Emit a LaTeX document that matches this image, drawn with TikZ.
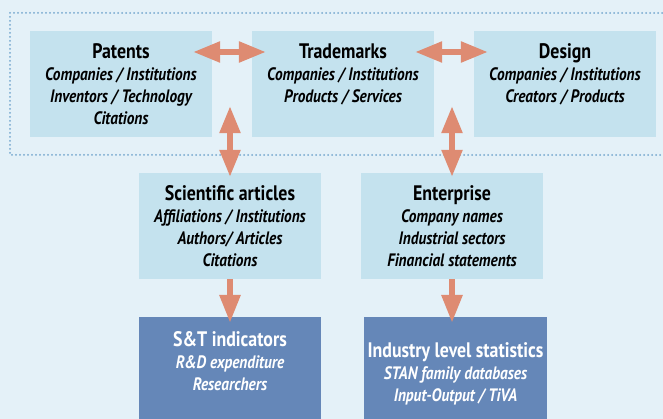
\documentclass[tikz,border=0pt]{standalone}
\usepackage{fontspec}
\setmainfont{PT Sans}[FakeStretch=0.85]
\usepackage{xcolor}
\usepackage{tikz}
\usetikzlibrary{arrows.meta}

\definecolor{bgBlue}{HTML}{E4F1F8}
\definecolor{boxBlue}{HTML}{C4E2EE}
\definecolor{darkBlue}{HTML}{6587B8}
\definecolor{arrowRed}{HTML}{DE8B72}
\definecolor{dotBlue}{HTML}{75A8CE}

\tikzstyle{tsBox} = [ 
    rectangle,
    inner sep=0pt,
    minimum width=182pt,
    minimum height=106pt,
    text=black
]
\tikzstyle{tsLightBox} = [ 
    tsBox,
    fill=boxBlue
]
\tikzstyle{tsDarkBox} = [ 
    tsBox,
    minimum height=110pt,
    fill=darkBlue,
    text=white
]
\tikzstyle{tsFrame} = [ 
    dotBlue,
    line width=2pt,
    line cap=round,
    dash pattern=on 0pt off 4pt
]
\tikzstyle{tsArrow} = [ 
    arrowRed,
    line width=5.5pt,
    {Triangle[width=20pt,length=27pt]}-{Triangle[width=20pt,length=27pt]}
]
\tikzstyle{tsDownArrow} = [ 
    arrowRed,
    line width=6pt,
    -{Triangle[width=20pt,length=28pt]}
]

% title line and italic lines, set from the top of the box
\newcommand{\tsLines}[3][8pt]{%
    \parbox[c][96pt][t]{180pt}{\centering\bfseries
        \fontsize{18}{22}\selectfont
        \vspace*{#1}%
        {\fontsize{21}{22}\selectfont #2}\\
        {\itshape #3}}}

\begin{document}
\begin{tikzpicture} [x=1pt, y=-1pt]
        \useasboundingbox (0,0) rectangle (663,419);
        \clip (0,0) rectangle (663,419);
        \fill[bgBlue] (0,0) rectangle (663,419);
        \draw[tsFrame] (10,13) rectangle (700,155);

        % Define nodes
        \node[tsLightBox] (pat) at (121,84) {\tsLines{Patents}{Companies / Institutions\\Inventors / Technology\\Citations}};
        \node[tsLightBox] (tm) at (343,84) {\tsLines{Trademarks}{Companies / Institutions\\Products / Services}};
        \node[tsLightBox] (des) at (565,84) {\tsLines{Design}{Companies / Institutions\\Creators / Products}};

        \node[tsLightBox] (sci) at (230,226) {\tsLines{Scientific articles}{Affiliations / Institutions\\Authors/ Articles\\Citations}};
        \node[tsLightBox] (ent) at (452,226) {\tsLines{Enterprise}{Company names\\Industrial sectors\\Financial statements}};

        \node[tsDarkBox] (st) at (230,372) {\tsLines{S\&T indicators}{R\&D expenditure\\Researchers}};
        \node[tsDarkBox, minimum width=183pt] (ind) at (455.5,372) {\tsLines[19pt]{Industry level statistics}{STAN family databases\\Input-Output / TiVA}};

        \draw[tsArrow] ([xshift=-19pt,yshift=32pt]pat.east) -- ([xshift=14pt,yshift=32pt]tm.west);
        \draw[tsArrow] ([xshift=-19pt,yshift=32pt]tm.east) -- ([xshift=14pt,yshift=32pt]des.west);
        \draw[tsArrow] ([yshift=-4pt]sci.north) -- ([yshift=31pt]sci.north |- pat.south);
        \draw[tsArrow] ([yshift=-4pt]ent.north) -- ([yshift=31pt]ent.north |- tm.south);
        \draw[tsDownArrow] (sci.south) -- ([yshift=-6pt]st.north);
        \draw[tsDownArrow] (ent.south) -- ([yshift=-6pt]ent.south |- ind.north);

    \end{tikzpicture}
\end{document}
